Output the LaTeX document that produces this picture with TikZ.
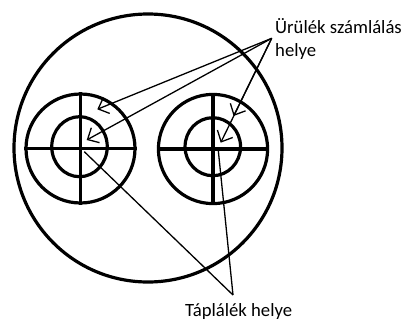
\documentclass[tikz,border=0pt]{standalone}
\usepackage{fontspec}
\setmainfont{Carlito}
\usetikzlibrary{arrows.meta,shapes.geometric}
\begin{document}
\begin{tikzpicture}[x=1pt,y=-1pt,
  crossline/.style={line width=3.2pt},
  ring/.style={draw, circle, line width=3.2pt, inner sep=0pt},
  iring/.style={draw, ellipse, line width=3.2pt, inner sep=0pt},
  ptr/.style={line width=1.3pt},
  arr/.style={ptr, -{Straight Barb[length=9pt,width=17pt]}},
  lbl/.style={font=\fontsize{18.7}{22.7}\selectfont, inner sep=0pt, anchor=base west}]
\useasboundingbox (0,0) rectangle (402,321);
% big circle
\node[ring, minimum size=268pt] (big) at (148,148) {};
% left target
\node[ring, minimum size=109pt] (Lo) at (80.5,148.5) {};
\node[iring, minimum width=55.5pt, minimum height=60pt] (Li) at (79.5,146.7) {};
\draw[crossline] (Lo.west) -- (Lo.east);
\draw[crossline] (Lo.north) -- (Lo.south);
% right target
\node[ring, minimum size=109.2pt] (Ro) at (213,149) {};
\node[iring, minimum width=55.5pt, minimum height=58pt] (Ri) at (212.8,146.7) {};
\draw[crossline] (Ro.west) -- (Ro.east);
\draw[crossline] (Ro.north) -- (Ro.south);
% labels
\node[lbl] (u1) at (275,34) {Ürülék számlálás};
\node[lbl] (u2) at (275,56.7) {helye};
\node[lbl] (tl) at (185,316.3) {Táplálék helye};
% connector points
\coordinate (ua) at (271.7,38.3);
\coordinate (t1) at (97.3,109.3);
\coordinate (t2) at (86.7,140);
\coordinate (t3) at (233.6,116);
\coordinate (t4) at (220.7,142.7);
\coordinate (ta) at (233,295);
\coordinate (b1) at (84.3,151.7);
\coordinate (b2) at (218.3,150.5);
% arrows
\draw[arr] (ua) -- (t1);
\draw[arr] (ua) -- (t2);
\draw[arr] (ua) -- (t3);
\draw[arr] (ua) -- (t4);
\draw[ptr] (ta) -- (b1);
\draw[ptr] (ta) -- (b2);
\end{tikzpicture}
\end{document}
